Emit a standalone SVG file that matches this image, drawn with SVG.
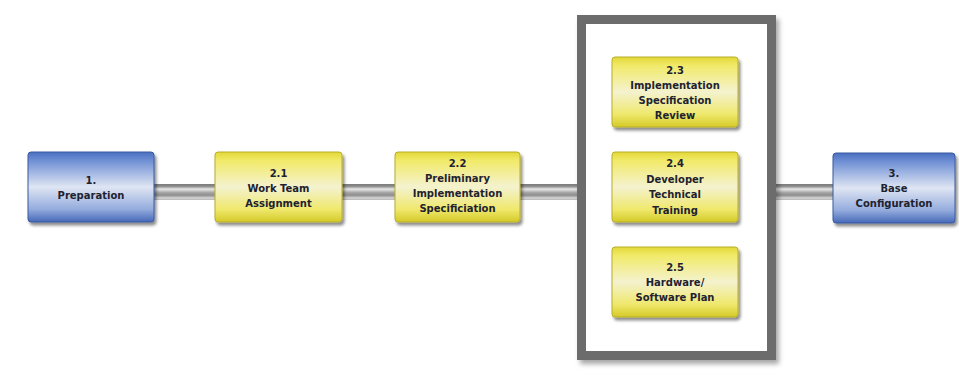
<svg xmlns="http://www.w3.org/2000/svg" width="959" height="392" viewBox="0 0 959 392">
  <defs>
    <linearGradient id="gBlue" x1="0" y1="0" x2="0" y2="1">
      <stop offset="0" stop-color="#4a6fc0"/>
      <stop offset="0.12" stop-color="#6e8fd4"/>
      <stop offset="0.5" stop-color="#dfe5f3"/>
      <stop offset="0.82" stop-color="#93abdd"/>
      <stop offset="1" stop-color="#4568b8"/>
    </linearGradient>
    <linearGradient id="gYellow" x1="0" y1="0" x2="0" y2="1">
      <stop offset="0" stop-color="#e2d838"/>
      <stop offset="0.12" stop-color="#f1ea68"/>
      <stop offset="0.5" stop-color="#f4f2cf"/>
      <stop offset="0.82" stop-color="#efe86c"/>
      <stop offset="1" stop-color="#d4ca28"/>
    </linearGradient>
    <linearGradient id="gBar" x1="0" y1="0" x2="0" y2="1">
      <stop offset="0" stop-color="#7a7a7a"/>
      <stop offset="0.15" stop-color="#8e8e8e"/>
      <stop offset="0.32" stop-color="#e8e8e8"/>
      <stop offset="0.55" stop-color="#a2a2a2"/>
      <stop offset="0.7" stop-color="#8e8e8e"/>
      <stop offset="0.88" stop-color="#d6d6d6"/>
      <stop offset="1" stop-color="#b4b4b4"/>
    </linearGradient>
    <filter id="shadow" x="-10%" y="-10%" width="130%" height="140%">
      <feDropShadow dx="2" dy="3" stdDeviation="1.6" flood-color="#000" flood-opacity="0.45"/>
    </filter>
    <filter id="soft" x="-5%" y="-5%" width="115%" height="115%">
      <feDropShadow dx="3" dy="4" stdDeviation="2.5" flood-color="#000" flood-opacity="0.35"/>
    </filter>
  </defs>
  <style>
    .box { stroke-width: 1; filter: url(#shadow); }
    .blue { fill: url(#gBlue); stroke: #3a5a9e; }
    .yellow { fill: url(#gYellow); stroke: #b8ae2a; }
    .bar { fill: url(#gBar); }
    .lbl { font-family: "DejaVu Sans", Verdana, sans-serif; font-weight: bold; font-size: 10px; fill: #1e2230; text-anchor: middle; }
    .frame { fill: #ffffff; stroke: #6c6c6c; stroke-width: 9; filter: url(#soft); }
  </style>

  <rect width="959" height="392" fill="#ffffff"/>

  <!-- connecting bars -->
  <g id="connectors">
    <rect class="bar" x="154" y="184" width="61" height="16"/>
    <rect class="bar" x="342" y="184" width="53" height="16"/>
    <rect class="bar" x="520" y="184" width="58" height="16"/>
    <rect class="bar" x="776" y="184" width="57" height="16"/>
  </g>

  <!-- frame grouping the parallel steps -->
  <g id="group-2-3-to-2-5">
    <rect class="frame" x="581.5" y="19.5" width="190" height="336"/>
  </g>

  <g id="node-1">
    <rect class="box blue" x="28" y="152" width="126" height="70" rx="3"/>
    <text class="lbl" x="91" y="184">1.</text>
    <text class="lbl" x="91" y="199">Preparation</text>
  </g>

  <g id="node-2-1">
    <rect class="box yellow" x="215" y="152" width="127" height="70" rx="3"/>
    <text class="lbl" x="278.5" y="176.5">2.1</text>
    <text class="lbl" x="278.5" y="191.5">Work Team</text>
    <text class="lbl" x="278.5" y="206.5">Assignment</text>
  </g>

  <g id="node-2-2">
    <rect class="box yellow" x="395" y="152" width="125" height="70" rx="3"/>
    <text class="lbl" x="457.5" y="167">2.2</text>
    <text class="lbl" x="457.5" y="182">Preliminary</text>
    <text class="lbl" x="457.5" y="197">Implementation</text>
    <text class="lbl" x="457.5" y="212">Specificiation</text>
  </g>

  <g id="node-2-3">
    <rect class="box yellow" x="612" y="57" width="126" height="70" rx="3"/>
    <text class="lbl" x="675" y="73.5">2.3</text>
    <text class="lbl" x="675" y="88.5">Implementation</text>
    <text class="lbl" x="675" y="103.5">Specification</text>
    <text class="lbl" x="675" y="118.5">Review</text>
  </g>

  <g id="node-2-4">
    <rect class="box yellow" x="612" y="152" width="126" height="70" rx="3"/>
    <text class="lbl" x="675" y="167">2.4</text>
    <text class="lbl" x="675" y="182.5">Developer</text>
    <text class="lbl" x="675" y="198">Technical</text>
    <text class="lbl" x="675" y="213.5">Training</text>
  </g>

  <g id="node-2-5">
    <rect class="box yellow" x="612" y="247" width="126" height="70" rx="3"/>
    <text class="lbl" x="675" y="270.5">2.5</text>
    <text class="lbl" x="675" y="285.5">Hardware/</text>
    <text class="lbl" x="675" y="300.5">Software Plan</text>
  </g>

  <g id="node-3">
    <rect class="box blue" x="833" y="153" width="122" height="70" rx="3"/>
    <text class="lbl" x="894" y="176.5">3.</text>
    <text class="lbl" x="894" y="191.5">Base</text>
    <text class="lbl" x="894" y="206.5">Configuration</text>
  </g>
</svg>
